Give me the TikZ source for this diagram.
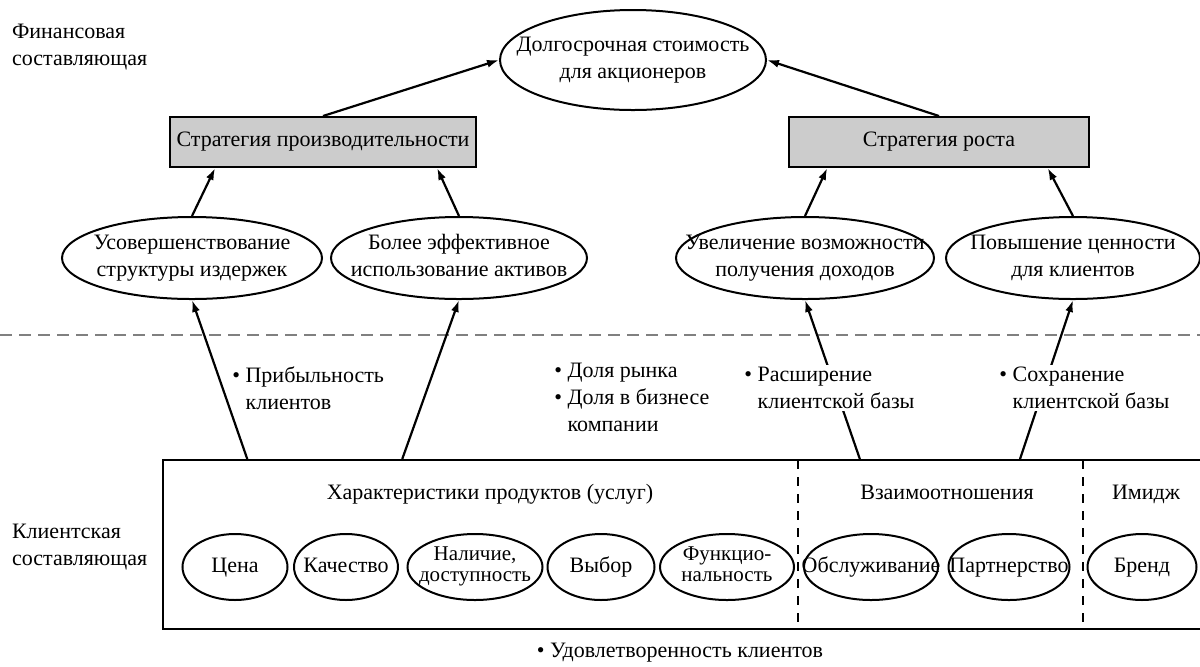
\documentclass[tikz,border=0pt]{standalone}
\usepackage{fontspec}
\setmainfont{Liberation Serif}
\usetikzlibrary{arrows.meta,shapes.geometric,calc}

\newcommand{\lines}[1]{\makebox[0pt]{\begin{tabular}{@{}c@{}}#1\end{tabular}}}
\newcommand{\tightlines}[1]{\makebox[0pt]{\fontsize{10.5}{13}\selectfont\def\arraystretch{0.8}\begin{tabular}{@{}c@{}}#1\end{tabular}}}
\newcommand{\skipbullet}{\phantom{\textbullet\ }}

\begin{document}
\begin{tikzpicture}[x=0.5pt,y=-0.5pt,font=\fontsize{11}{13.5}\selectfont,
  goal/.style={ellipse,draw,line width=1pt,inner sep=0pt,minimum height=41pt},
  item/.style={ellipse,draw,line width=1pt,inner sep=0pt,minimum height=33pt},
  strat/.style={draw,fill=black!20,line width=1pt,minimum width=150pt,minimum height=25pt},
  arr/.style={-{Latex[length=6pt,width=4pt]},line width=1.1pt},
  note/.style={align=left,anchor=west,inner sep=1pt},
  head/.style={anchor=base},
  sepline/.style={gray,line width=1pt,dash pattern=on 6pt off 3.5pt},
  divider/.style={line width=0.8pt,dash pattern=on 4.5pt off 4pt}]
\useasboundingbox (0,0) rectangle (1200,666);
\clip (0,0) rectangle (1200,666);

\node[align=left,anchor=west] (finside) at (5,47) {Финансовая\\составляющая};
\node[align=left,anchor=west] (custside) at (5,547) {Клиентская\\составляющая};

\node[ellipse,draw,line width=1pt,inner sep=0pt,minimum width=133pt,minimum height=50pt] (ltv) at (633,60) {\lines{Долгосрочная стоимость\\для акционеров}};
\node[strat] (prod) at (323,142) {Стратегия производительности};
\node[strat] (grow) at (939,142) {Стратегия роста};

\node[goal,minimum width=130pt] (cost) at (192,258) {\lines{Усовершенствование\\структуры издержек}};
\node[goal,minimum width=128pt] (asset) at (459,258) {\lines{Более эффективное\\использование активов}};
\node[goal,minimum width=129pt] (rev) at (805,258) {\lines{Увеличение возможности\\получения доходов}};
\node[goal,minimum width=127pt] (val) at (1073,258) {\lines{Повышение ценности\\для клиентов}};

\draw[sepline] (0,335) -- (1200,335);

\node[draw,line width=1pt,inner sep=0pt,minimum width=519pt,minimum height=84.5pt] (cust) at (682,544.5) {};
\draw[divider] (798,460) -- (798,629);
\draw[divider] (1083,460) -- (1083,629);
\node[head] (prodhead) at (490,499) {Характеристики продуктов (услуг)};
\node[head] (relhead) at (947,499) {Взаимоотношения};
\node[head] (imghead) at (1146,499) {Имидж};

\node[item,minimum width=52.5pt] (price) at (235,567) {\lines{Цена}};
\node[item,minimum width=52pt] (qual) at (346,567) {\lines{Качество}};
\node[item,minimum width=67.5pt] (avail) at (475,567) {\tightlines{Наличие,\\доступность}};
\node[item,minimum width=53.5pt] (choice) at (601,567) {\lines{Выбор}};
\node[item,minimum width=67pt] (func) at (727,567) {\tightlines{Функцио-\\нальность}};
\node[item,minimum width=67pt] (serv) at (871,567) {\lines{Обслуживание}};
\node[item,minimum width=60.5pt] (part) at (1009,567) {\lines{Партнерство}};
\node[item,minimum width=54.5pt] (brand) at (1142,567) {\lines{Бренд}};

\node[note] (profit) at (230,388) {\textbullet\ Прибыльность\\\skipbullet клиентов};
\node[note] (share) at (552,397) {\textbullet\ Доля рынка\\\textbullet\ Доля в бизнесе\\\skipbullet компании};
\node (satisf) at (680,653) {\textbullet\ Удовлетворенность клиентов};

\draw[arr] (prod.north) -- (ltv.west);
\draw[arr] (grow.north) -- (ltv.east);
\draw[arr] (cost.north) -- ($(prod.south west)!.15!(prod.south east)$);
\draw[arr] (asset.north) -- ($(prod.south west)!.87!(prod.south east)$);
\draw[arr] (rev.north) -- ($(grow.south west)!.13!(grow.south east)$);
\draw[arr] (val.north) -- ($(grow.south west)!.86!(grow.south east)$);
\draw[arr] ($(cust.north west)!.082!(cust.north east)$) -- (cost.south);
\draw[arr] ($(cust.north west)!.231!(cust.north east)$) -- (asset.south);
\draw[arr] ($(cust.north west)!.671!(cust.north east)$) -- (rev.south);
\draw[arr] ($(cust.north west)!.825!(cust.north east)$) -- (val.south);

\node[note,fill=white] (widen) at (742,388) {\textbullet\ Расширение\\\skipbullet клиентской базы};
\node[note,fill=white] (keep) at (997,388) {\textbullet\ Сохранение\\\skipbullet клиентской базы};
\end{tikzpicture}
\end{document}
